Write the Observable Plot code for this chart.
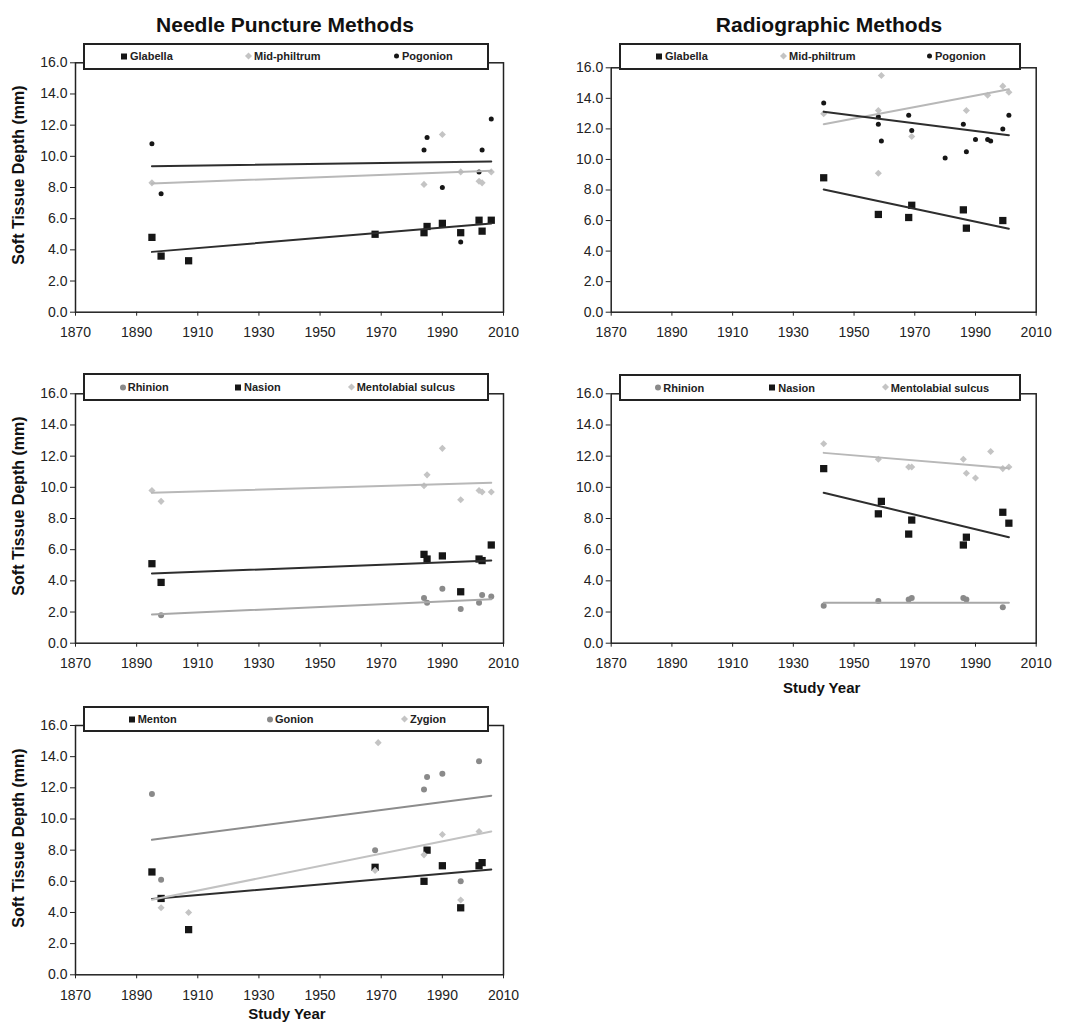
<!DOCTYPE html>
<html>
<head>
<meta charset="utf-8">
<script src="https://cdn.jsdelivr.net/npm/d3@7"></script>
<script src="https://cdn.jsdelivr.net/npm/@observablehq/plot@0.6"></script>
<style>
  body { margin: 0; background: #fff; }
  #root { position: relative; width: 1074px; height: 1024px; overflow: hidden; font-family: "Liberation Sans", Arial, sans-serif; color: #111; }
  .panel { position: absolute; }
  .title { position: absolute; font-weight: bold; font-size: 21px; line-height: 21px; transform: translateX(-50%); white-space: nowrap; color: #111; z-index: 3; }
  .legend { position: absolute; border: 2px solid #222; background: #fff; box-sizing: border-box; z-index: 2; }
  .item { position: absolute; font-size: 11px; line-height: 11px; font-weight: bold; color: #222; white-space: nowrap; transform: translateY(-50%); z-index: 3; }
  .mk { position: absolute; top: 50%; }
  .ylab, .xlab { position: absolute; font-weight: bold; white-space: nowrap; z-index: 3; color: #111; }
  .ylab { font-size: 16px; transform: translate(-50%, -50%) rotate(-90deg); }
  .xlab { font-size: 15px; transform: translate(-50%, -50%); }
</style>
</head>
<body>
<div id="root"></div>
<script>
// ---------- axis ticks ----------
const xTickValues = [1870, 1890, 1910, 1930, 1950, 1970, 1990, 2010];
const yTickValues = [0, 2, 4, 6, 8, 10, 12, 14, 16];
const panelTitles = ["Needle Puncture Methods", "Radiographic Methods"];
const yAxisLabel = "Soft Tissue Depth (mm)";
const xAxisLabel = "Study Year";

// ---------- Panel A: needle puncture (Glabella, Mid-philtrum, Pogonion) ----------
const npGlabellaYear  = [1895, 1898, 1907, 1968, 1984, 1985, 1990, 1996, 2002, 2003, 2006];
const npGlabellaDepth = [4.8, 3.6, 3.3, 5.0, 5.1, 5.5, 5.7, 5.1, 5.9, 5.2, 5.9];
const npPhiltrumYear  = [1895, 1984, 1990, 1996, 2002, 2003, 2006];
const npPhiltrumDepth = [8.3, 8.2, 11.4, 9.0, 8.4, 8.3, 9.0];
const npPogonionYear  = [1895, 1898, 1984, 1985, 1990, 1996, 2002, 2003, 2006];
const npPogonionDepth = [10.8, 7.6, 10.4, 11.2, 8.0, 4.5, 9.0, 10.4, 12.4];
const npTrendYear = [1895, 2006];
const npGlabellaTrend = [3.87, 5.69];
const npPhiltrumTrend = [8.26, 9.07];
const npPogonionTrend = [9.37, 9.67];

// ---------- Panel B: radiographic (Glabella, Mid-philtrum, Pogonion) ----------
const rgGlabellaYear  = [1940, 1958, 1968, 1969, 1986, 1987, 1999];
const rgGlabellaDepth = [8.8, 6.4, 6.2, 7.0, 6.7, 5.5, 6.0];
const rgPhiltrumYear  = [1940, 1959, 1958, 1958, 1969, 1987, 1994, 1999, 2001];
const rgPhiltrumDepth = [13.0, 15.5, 13.2, 9.1, 11.5, 13.2, 14.2, 14.8, 14.4];
const rgPogonionYear  = [1940, 1958, 1958, 1959, 1968, 1969, 1980, 1986, 1987, 1990, 1994, 1995, 1999, 2001];
const rgPogonionDepth = [13.7, 12.8, 12.3, 11.2, 12.9, 11.9, 10.1, 12.3, 10.5, 11.3, 11.3, 11.2, 12.0, 12.9];
const rgTrendYear = [1940, 2001];
const rgGlabellaTrend = [8.03, 5.46];
const rgPhiltrumTrend = [12.31, 14.6];
const rgPogonionTrend = [13.12, 11.59];

// ---------- Panel C: needle puncture (Rhinion, Nasion, Mentolabial sulcus) ----------
const npRhinionYear  = [1898, 1984, 1985, 1990, 1996, 2002, 2003, 2006];
const npRhinionDepth = [1.8, 2.9, 2.6, 3.5, 2.2, 2.6, 3.1, 3.0];
const npNasionYear   = [1895, 1898, 1984, 1985, 1990, 1996, 2002, 2003, 2006];
const npNasionDepth  = [5.1, 3.9, 5.7, 5.4, 5.6, 3.3, 5.4, 5.3, 6.3];
const npMentoYear    = [1895, 1898, 1984, 1985, 1990, 1996, 2002, 2003, 2006];
const npMentoDepth   = [9.8, 9.1, 10.1, 10.8, 12.5, 9.2, 9.8, 9.7, 9.7];
const npRhinionTrend = [1.84, 2.82];
const npNasionTrend  = [4.47, 5.3];
const npMentoTrend   = [9.65, 10.29];

// ---------- Panel D: radiographic (Rhinion, Nasion, Mentolabial sulcus) ----------
const rgRhinionYear  = [1940, 1958, 1968, 1969, 1986, 1987, 1999];
const rgRhinionDepth = [2.4, 2.7, 2.8, 2.9, 2.9, 2.8, 2.3];
const rgNasionYear   = [1940, 1958, 1959, 1968, 1969, 1986, 1987, 1999, 2001];
const rgNasionDepth  = [11.2, 8.3, 9.1, 7.0, 7.9, 6.3, 6.8, 8.4, 7.7];
const rgMentoYear    = [1940, 1958, 1968, 1969, 1986, 1987, 1990, 1995, 1999, 2001];
const rgMentoDepth   = [12.8, 11.8, 11.3, 11.3, 11.8, 10.9, 10.6, 12.3, 11.2, 11.3];
const rgRhinionTrend = [2.59, 2.59];
const rgNasionTrend  = [9.65, 6.8];
const rgMentoTrend   = [12.21, 11.23];

// ---------- Panel E: needle puncture (Menton, Gonion, Zygion) ----------
const npMentonYear  = [1895, 1898, 1907, 1968, 1984, 1985, 1990, 1996, 2002, 2003];
const npMentonDepth = [6.6, 4.9, 2.9, 6.9, 6.0, 8.0, 7.0, 4.3, 7.0, 7.2];
const npGonionYear  = [1895, 1898, 1968, 1984, 1985, 1990, 1996, 2002];
const npGonionDepth = [11.6, 6.1, 8.0, 11.9, 12.7, 12.9, 6.0, 13.7];
const npZygionYear  = [1898, 1907, 1968, 1969, 1984, 1990, 1996, 2002];
const npZygionDepth = [4.3, 4.0, 6.7, 14.9, 7.7, 9.0, 4.8, 9.2];
const npMentonTrend = [4.86, 6.76];
const npGonionTrend = [8.66, 11.49];
const npZygionTrend = [4.81, 9.2];

// ---------- styles ----------
const STY = {
  square:  {symbol: "square",   r: 4.1, fill: "#161616"},
  diamond: {symbol: "diamond2", r: 3.2, fill: "#c4c4c4"},
  dot:     {symbol: "circle",   r: 2.5, fill: "#161616"},
  circle:  {symbol: "circle",   r: 3.0, fill: "#8a8a8a"}
};

function rows(years, depths) { return years.map((y, i) => ({year: y, depth: depths[i]})); }

const panels = [
  {L: 0, T: 0, W: 537, H: 345, x0: 75, x1: 503, yt: 62.3, yb: 311.7,
   legend: {left: 83, top: 42.7, width: 406, height: 27},
   series: [
     {name: "Glabella", st: "square", years: npGlabellaYear, depths: npGlabellaDepth, ty: npTrendYear, tv: npGlabellaTrend, line: "#2e2e2e", lx: 130},
     {name: "Mid-philtrum", st: "diamond", years: npPhiltrumYear, depths: npPhiltrumDepth, ty: npTrendYear, tv: npPhiltrumTrend, line: "#b8b8b8", lx: 254},
     {name: "Pogonion", st: "dot", years: npPogonionYear, depths: npPogonionDepth, ty: npTrendYear, tv: npPogonionTrend, line: "#2e2e2e", lx: 402}
   ]},
  {L: 537, T: 0, W: 537, H: 345, x0: 610.7, x1: 1035.7, yt: 67.3, yb: 311.7,
   legend: {left: 619, top: 42.7, width: 402, height: 27},
   series: [
     {name: "Glabella", st: "square", years: rgGlabellaYear, depths: rgGlabellaDepth, ty: rgTrendYear, tv: rgGlabellaTrend, line: "#2e2e2e", lx: 665},
     {name: "Mid-philtrum", st: "diamond", years: rgPhiltrumYear, depths: rgPhiltrumDepth, ty: rgTrendYear, tv: rgPhiltrumTrend, line: "#b8b8b8", lx: 789},
     {name: "Pogonion", st: "dot", years: rgPogonionYear, depths: rgPogonionDepth, ty: rgTrendYear, tv: rgPogonionTrend, line: "#2e2e2e", lx: 935}
   ]},
  {L: 0, T: 345, W: 537, H: 330, x0: 75, x1: 503, yt: 393.3, yb: 642.7,
   legend: {left: 83, top: 373.3, width: 406, height: 27.4},
   series: [
     {name: "Rhinion", st: "circle", years: npRhinionYear, depths: npRhinionDepth, ty: npTrendYear, tv: npRhinionTrend, line: "#a8a8a8", lx: 127.7},
     {name: "Nasion", st: "square", years: npNasionYear, depths: npNasionDepth, ty: npTrendYear, tv: npNasionTrend, line: "#2e2e2e", lx: 244},
     {name: "Mentolabial sulcus", st: "diamond", years: npMentoYear, depths: npMentoDepth, ty: npTrendYear, tv: npMentoTrend, line: "#b8b8b8", lx: 356.7}
   ]},
  {L: 537, T: 345, W: 537, H: 330, x0: 610.7, x1: 1035.7, yt: 393.3, yb: 642.7,
   legend: {left: 619.3, top: 374, width: 401.7, height: 27},
   xlab: {x: 821.7, y: 686.7},
   series: [
     {name: "Rhinion", st: "circle", years: rgRhinionYear, depths: rgRhinionDepth, ty: rgTrendYear, tv: rgRhinionTrend, line: "#a8a8a8", lx: 663.3},
     {name: "Nasion", st: "square", years: rgNasionYear, depths: rgNasionDepth, ty: rgTrendYear, tv: rgNasionTrend, line: "#2e2e2e", lx: 778.3},
     {name: "Mentolabial sulcus", st: "diamond", years: rgMentoYear, depths: rgMentoDepth, ty: rgTrendYear, tv: rgMentoTrend, line: "#b8b8b8", lx: 890.7}
   ]},
  {L: 0, T: 675, W: 537, H: 349, x0: 75, x1: 503, yt: 725, yb: 974.3,
   legend: {left: 83, top: 706, width: 406, height: 26.3},
   xlab: {x: 287, y: 1013},
   series: [
     {name: "Menton", st: "square", years: npMentonYear, depths: npMentonDepth, ty: npTrendYear, tv: npMentonTrend, line: "#2e2e2e", lx: 137.7},
     {name: "Gonion", st: "circle", years: npGonionYear, depths: npGonionDepth, ty: npTrendYear, tv: npGonionTrend, line: "#8c8c8c", lx: 275},
     {name: "Zygion", st: "diamond", years: npZygionYear, depths: npZygionDepth, ty: npTrendYear, tv: npZygionTrend, line: "#c2c2c2", lx: 410}
   ]}
];

const root = document.getElementById("root");

function el(cls, css, text) {
  const d = document.createElement("div");
  d.className = cls;
  Object.assign(d.style, css);
  if (text != null) d.textContent = text;
  root.appendChild(d);
  return d;
}

function markerHTML(st) {
  const s = STY[st];
  if (st === "square") return `<span class="mk" style="left:-9px;margin-top:-3px;width:6px;height:6px;background:${s.fill}"></span>`;
  if (st === "diamond") return `<span class="mk" style="left:-8px;margin-top:-3px;width:5px;height:5px;background:${s.fill};transform:rotate(45deg)"></span>`;
  if (st === "dot") return `<span class="mk" style="left:-8px;margin-top:-2.5px;width:5px;height:5px;border-radius:50%;background:${s.fill}"></span>`;
  return `<span class="mk" style="left:-8px;margin-top:-3px;width:6px;height:6px;border-radius:50%;background:${s.fill}"></span>`;
}

panels.forEach((p, idx) => {
  const marks = [
    Plot.frame({stroke: "#222", strokeWidth: 1.5}),
    Plot.axisX({ticks: xTickValues, tickFormat: d => String(d), tickSize: 4, tickPadding: 11, label: null}),
    Plot.axisY({ticks: yTickValues, tickFormat: d => d.toFixed(1), tickSize: 5, tickPadding: 3, label: null})
  ];
  p.series.forEach(s => {
    const st = STY[s.st];
    marks.push(Plot.dot(rows(s.years, s.depths), {x: "year", y: "depth", symbol: st.symbol, r: st.r, fill: st.fill, stroke: "none"}));
  });
  p.series.forEach(s => {
    marks.push(Plot.line(rows(s.ty, s.tv), {x: "year", y: "depth", stroke: s.line, strokeWidth: 2}));
  });
  const chart = Plot.plot({
    width: p.W, height: p.H,
    marginLeft: p.x0 - p.L, marginRight: p.L + p.W - p.x1,
    marginTop: p.yt - p.T, marginBottom: p.T + p.H - p.yb,
    x: {domain: [1870, 2010]},
    y: {domain: [0, 16]},
    style: {fontSize: "14px", fontFamily: "'Liberation Sans', Arial, sans-serif", color: "#222", background: "transparent", overflow: "visible"},
    marks
  });
  chart.classList.add("panel");
  chart.style.left = p.L + "px";
  chart.style.top = p.T + "px";
  root.appendChild(chart);

  // legend box
  el("legend", {left: p.legend.left + "px", top: p.legend.top + "px", width: p.legend.width + "px", height: p.legend.height + "px"});
  const cy = p.legend.top + p.legend.height / 2;
  p.series.forEach(s => {
    const d = el("item", {left: s.lx + "px", top: cy + "px"});
    d.innerHTML = markerHTML(s.st) + s.name;
  });

  // y axis label (left column only)
  if (p.L === 0) {
    el("ylab", {left: "19px", top: ((p.yt + p.yb) / 2 - 12) + "px"}, yAxisLabel);
  }
  if (p.xlab) el("xlab", {left: p.xlab.x + "px", top: p.xlab.y + "px"}, xAxisLabel);
});

el("title", {left: "285px", top: "13.5px"}, panelTitles[0]);
el("title", {left: "829px", top: "13.5px"}, panelTitles[1]);
</script>
</body>
</html>
